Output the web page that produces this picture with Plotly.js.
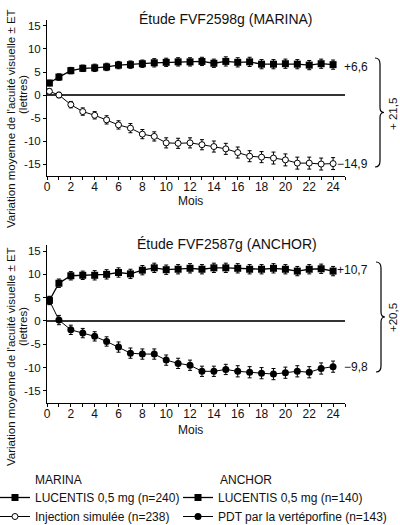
<!DOCTYPE html>
<html><head><meta charset="utf-8">
<script src="https://cdn.plot.ly/plotly-3.0.1.min.js"></script>
<style>html,body{margin:0;padding:0;background:#fff}#chart{width:400px;height:525px}</style>
</head><body><div id="chart"></div><script>
const months = [0.2,1,2,3,4,5,6,7,8,9,10,11,12,13,14,15,16,17,18,19,20,21,22,23,24];
const marinaLucentis = [2.6,3.9,5.3,5.8,5.9,6.1,6.5,6.6,6.8,7.0,7.1,7.2,7.2,7.3,6.9,7.3,7.1,7.2,6.7,6.7,6.8,6.7,6.5,6.8,6.6];
const marinaLucentisErr = [0.6,0.7,0.7,0.7,0.8,0.8,0.8,0.8,0.8,0.9,0.9,0.9,0.9,0.9,0.9,1.0,1.0,1.0,1.0,1.0,1.0,1.0,1.0,1.0,1.0];
const marinaSham = [0.8,0.0,-2.1,-3.6,-4.4,-5.4,-6.5,-7.2,-8.5,-9.0,-10.4,-10.5,-10.4,-10.8,-11.2,-11.7,-12.5,-13.3,-13.5,-13.7,-14.1,-14.8,-14.8,-15.0,-14.9];
const marinaShamErr = [0.6,0.6,0.7,0.8,0.8,0.9,0.9,1.0,1.0,1.0,1.1,1.1,1.1,1.1,1.2,1.2,1.2,1.2,1.2,1.3,1.3,1.3,1.3,1.3,1.3];
const anchorLucentis = [4.4,8.1,9.7,9.8,9.8,10.0,10.4,10.1,10.9,11.4,11.0,11.1,11.3,11.1,11.4,11.4,11.3,11.1,11.1,11.3,11.1,10.7,11.1,11.2,10.7];
const anchorLucentisErr = [0.8,0.9,0.9,0.9,1.0,1.0,1.0,1.0,1.0,1.0,1.0,1.0,1.0,1.0,1.0,1.0,1.0,1.0,1.0,1.0,1.0,1.0,1.0,1.0,1.0];
const anchorPdt = [4.4,0.2,-1.9,-2.6,-3.3,-4.4,-5.6,-6.9,-7.1,-7.1,-8.4,-9.1,-9.5,-10.8,-10.8,-10.4,-10.8,-11.0,-11.2,-11.4,-11.1,-10.8,-11.0,-10.2,-9.8];
const anchorPdtErr = [0.9,1.0,1.0,1.0,1.0,1.0,1.1,1.1,1.1,1.1,1.1,1.1,1.1,1.1,1.1,1.1,1.2,1.2,1.2,1.2,1.2,1.2,1.2,1.2,1.2];
const xTickVals = [0,2,4,6,8,10,12,14,16,18,20,22,24];
const yTickVals = [-15,-10,-5,0,5,10,15];
const yTickText = ['-15','-10','-5','0','5','10','15'];
const seriesNames = ['LUCENTIS 0,5 mg (n=240)','Injection simulée (n=238)','LUCENTIS 0,5 mg (n=140)','PDT par la vertéporfine (n=143)'];
const studyTitles = ['Étude FVF2598g (MARINA)','Étude FVF2587g (ANCHOR)'];
const endLabels = ['+6,6','\u221214,9','+10,7','\u22129,8'];
const diffLabels = ['+ 21,5','+20,5'];
const legendTitles = ['MARINA','ANCHOR'];

const FONT = 'Liberation Sans, Arial, Helvetica, sans-serif';
const L=47, R=345, T=20, B=405;
const px = p => (p-L)/(R-L);
const py = p => (B-p)/(B-T);

function errs(a){return {type:'data',array:a,visible:true,color:'#000',thickness:1,width:2};}
const traces = [
  {x:months,y:marinaLucentis,xaxis:'x',yaxis:'y',name:seriesNames[0],mode:'lines+markers',
   line:{color:'#000',width:1.3},marker:{symbol:'square',size:7,color:'#000'},error_y:errs(marinaLucentisErr),legend:'legend'},
  {x:months,y:marinaSham,xaxis:'x',yaxis:'y',name:seriesNames[1],mode:'lines+markers',
   line:{color:'#000',width:1},marker:{symbol:'circle',size:6,color:'#fff',line:{color:'#000',width:1}},error_y:errs(marinaShamErr),legend:'legend'},
  {x:months,y:anchorLucentis,xaxis:'x2',yaxis:'y2',name:seriesNames[2],mode:'lines+markers',
   line:{color:'#000',width:1.3},marker:{symbol:'square',size:7,color:'#000'},error_y:errs(anchorLucentisErr),legend:'legend2'},
  {x:months,y:anchorPdt,xaxis:'x2',yaxis:'y2',name:seriesNames[3],mode:'lines+markers',
   line:{color:'#000',width:1},marker:{symbol:'circle',size:7,color:'#000'},error_y:errs(anchorPdtErr),legend:'legend2'}
];

function xax(anchor){return {domain:[0,1],range:[0,25],anchor:anchor,showline:true,linecolor:'#000',linewidth:1,
  ticks:'outside',ticklen:3,tickcolor:'#000',tickvals:xTickVals,ticklabelstandoff:-3,
  minor:{dtick:1,ticks:'outside',ticklen:3,tickcolor:'#000'},
  showgrid:false,zeroline:false,tickfont:{size:12,color:'#111',family:FONT}};}
function yax(anchor,dom){return {domain:dom,range:[-17.6,16.3],anchor:anchor,showline:true,linecolor:'#000',linewidth:1,
  ticks:'outside',ticklen:3,tickcolor:'#000',tickvals:yTickVals,ticktext:yTickText,showgrid:false,
  zeroline:true,zerolinecolor:'#333',zerolinewidth:1.1,tickfont:{size:11.5,color:'#111',family:FONT}};}

function brace(x0,y0,y1){
  const ym=(y0+y1)/2, x1=x0+5, xt=x0+9;
  return 'M '+px(x0)+','+py(y0)+' Q '+px(x1)+','+py(y0)+' '+px(x1)+','+py(y0+6)+
    ' L '+px(x1)+','+py(ym-5)+' Q '+px(x1)+','+py(ym)+' '+px(xt)+','+py(ym)+
    ' Q '+px(x1)+','+py(ym)+' '+px(x1)+','+py(ym+5)+
    ' L '+px(x1)+','+py(y1-6)+' Q '+px(x1)+','+py(y1)+' '+px(x0)+','+py(y1);
}

function ann(text,x,y,opts){return Object.assign({text:text,xref:'paper',yref:'paper',x:px(x),y:py(y),showarrow:false,
  xanchor:'center',yanchor:'middle',font:{size:12,color:'#111',family:FONT}},opts||{});}

const annotations = [
  ann(studyTitles[0],226,19,{font:{size:14,color:'#111',family:FONT}}),
  ann(studyTitles[1],227,244,{font:{size:14,color:'#111',family:FONT}}),
  ann('Mois',190,201),
  ann('Mois',190,430),
  ann("Variation moyenne de l'acuité visuelle ± ET",11,119,{textangle:-90,font:{size:11.5,color:'#111',family:FONT}}),
  ann('(lettres)',23,95,{textangle:-90,font:{size:11.5,color:'#111',family:FONT}}),
  ann("Variation moyenne de l'acuité visuelle ± ET",11,357,{textangle:-90,font:{size:11.5,color:'#111',family:FONT}}),
  ann('(lettres)',23,327,{textangle:-90,font:{size:11.5,color:'#111',family:FONT}}),
  ann(endLabels[0],370,67,{xanchor:'right'}),
  ann(endLabels[1],370,164,{xanchor:'right'}),
  ann(endLabels[2],370,270,{xanchor:'right'}),
  ann(endLabels[3],370,367,{xanchor:'right'}),
  ann(diffLabels[0],393,114,{textangle:-90,font:{size:11.5,color:'#111',family:FONT}}),
  ann(diffLabels[1],393,318,{textangle:-90,font:{size:11.5,color:'#111',family:FONT}}),
  ann(legendTitles[0],33,480,{xanchor:'left'}),
  ann(legendTitles[1],218,480,{xanchor:'left'})
];

const layout = {
  width:400,height:525,paper_bgcolor:'#fff',plot_bgcolor:'#fff',
  margin:{l:L,r:400-R,t:T,b:525-B,autoexpand:false},
  font:{family:FONT,color:'#111',size:12},
  showlegend:true,
  xaxis:xax('y'),yaxis:yax('x',[py(176),py(20)]),
  xaxis2:xax('y2'),yaxis2:yax('x2',[py(403),py(245)]),
  legend:{x:px(-5),xanchor:'left',y:py(483),yanchor:'top',bgcolor:'rgba(0,0,0,0)',borderwidth:0,
    font:{size:12,color:'#111',family:FONT},itemwidth:30,tracegroupgap:0},
  legend2:{x:px(178),xanchor:'left',y:py(483),yanchor:'top',bgcolor:'rgba(0,0,0,0)',borderwidth:0,
    font:{size:12,color:'#111',family:FONT},itemwidth:30,tracegroupgap:0},
  shapes:[
    {type:'path',xref:'paper',yref:'paper',path:brace(375,58,167),line:{color:'#000',width:1.2}},
    {type:'path',xref:'paper',yref:'paper',path:brace(376,262,372),line:{color:'#000',width:1.2}}
  ],
  annotations:annotations
};
Plotly.newPlot('chart',traces,layout,{displayModeBar:false,staticPlot:true});
</script></body></html>
